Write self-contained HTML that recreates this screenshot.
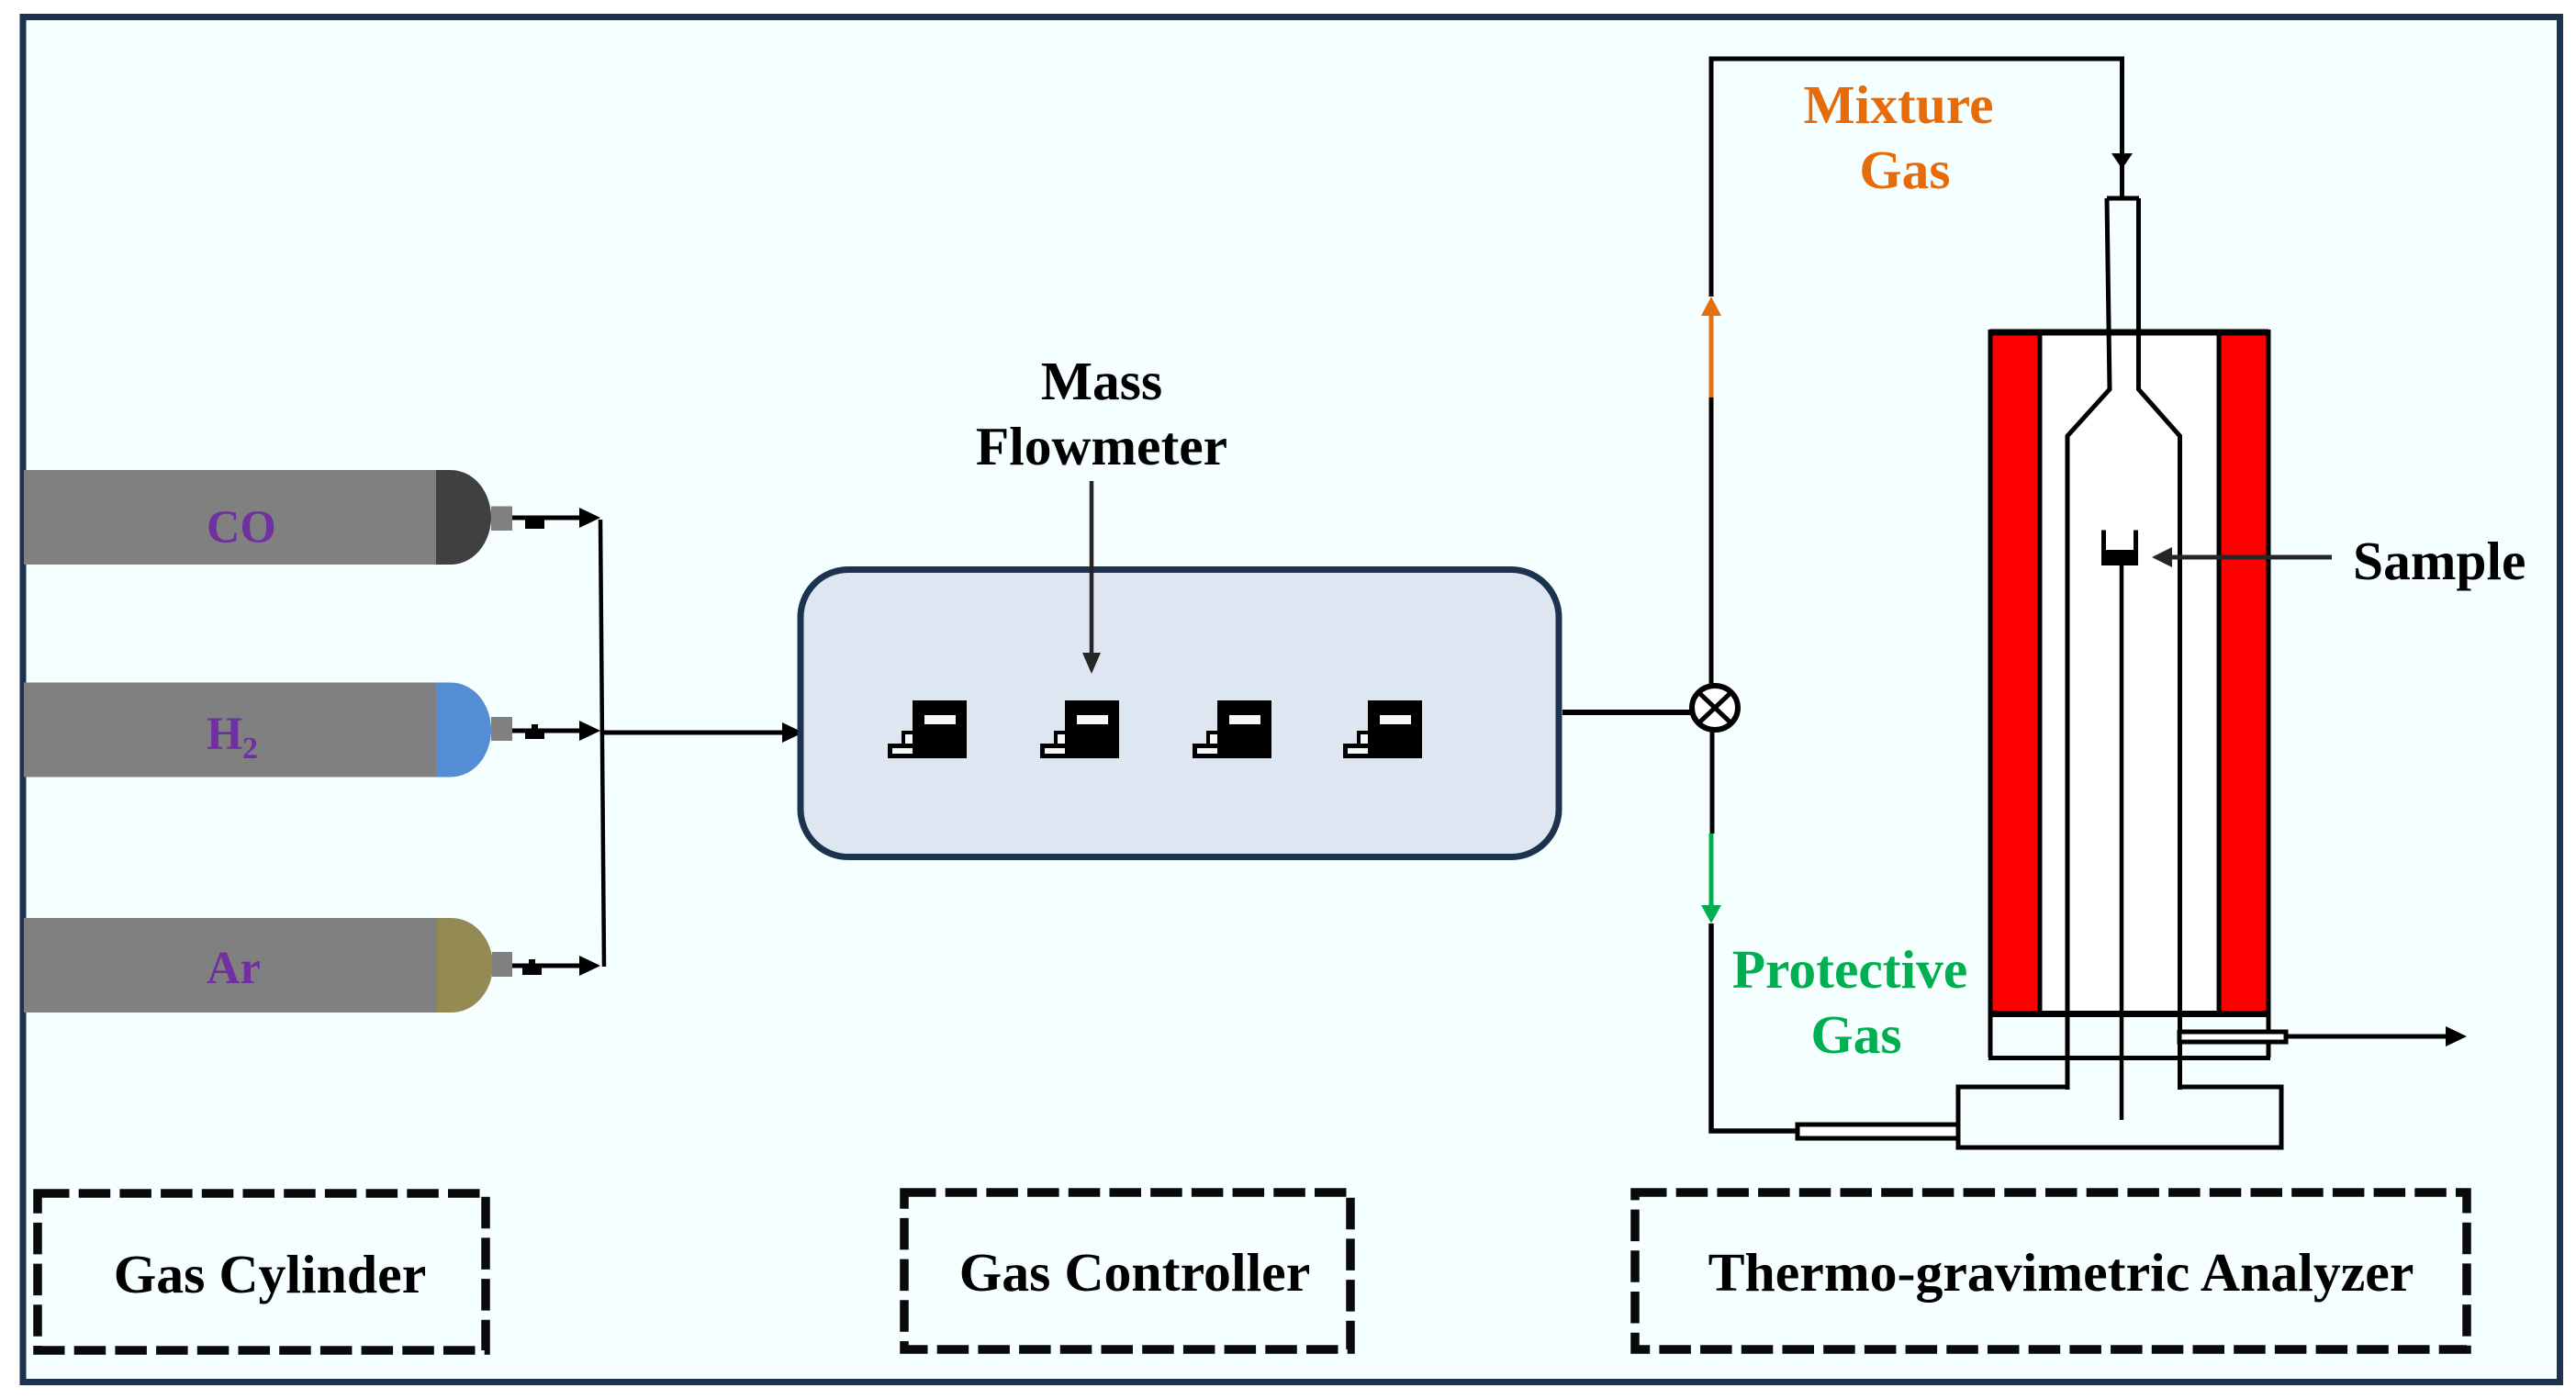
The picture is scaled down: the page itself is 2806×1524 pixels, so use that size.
<!DOCTYPE html>
<html lang="en">
<head>
<meta charset="utf-8">
<title>Gas flow diagram</title>
<style>
html,body{margin:0;padding:0;background:#fff;}
svg{display:block;}
text{font-family:"Liberation Serif",serif;font-weight:bold;}
</style>
</head>
<body>
<svg xmlns="http://www.w3.org/2000/svg" width="2806" height="1524" viewBox="0 0 2806 1524">
<rect width="2806" height="1524" fill="#fff"/>
<rect x="25" y="18.5" width="2763.5" height="1487" fill="#f5ffff" stroke="#1c3350" stroke-width="7"/>

<!-- cylinders -->
<rect x="26" y="512" width="450" height="103" fill="#808080"/>
<rect x="26" y="743.5" width="450" height="103" fill="#808080"/>
<rect x="26" y="1000" width="450" height="103" fill="#808080"/>
<path d="M475 512 H490 C518 512 535 538 535 563.5 C535 589 518 615 490 615 H475 Z" fill="#404040"/>
<path d="M475 743.5 H490 C518 743.5 535 769 535 795 C535 821 518 846.5 490 846.5 H475 Z" fill="#558ed5"/>
<path d="M476 1000 H491 C519 1000 537 1026 537 1051.5 C537 1077 519 1103 491 1103 H476 Z" fill="#948a54"/>
<rect x="535" y="551.5" width="23" height="26.5" fill="#808080"/>
<rect x="535" y="781" width="23" height="26" fill="#808080"/>
<rect x="536" y="1037" width="22" height="27" fill="#808080"/>
<text x="225" y="591" font-size="50.5" fill="#7030a0">CO</text>
<text x="225" y="816" font-size="50.5" fill="#7030a0">H</text>
<text x="264" y="826" font-size="34" fill="#7030a0">2</text>
<text x="225" y="1071" font-size="50.5" fill="#7030a0">Ar</text>

<!-- cylinder lines -->
<g stroke="#000" stroke-width="5" fill="none">
<line x1="558" y1="564" x2="635" y2="564"/>
<line x1="558" y1="796" x2="635" y2="796"/>
<line x1="558" y1="1052" x2="635" y2="1052"/>
<line x1="654" y1="566" x2="658" y2="1053" stroke-width="4.5"/>
<line x1="657" y1="798" x2="855" y2="798"/>
</g>
<g fill="#000">
<path d="M631 553 L654 564 L631 575 Z"/>
<path d="M631 785 L654 796 L631 807 Z"/>
<path d="M631 1041 L654 1052 L631 1063 Z"/>
<path d="M852 787 L875 798 L852 809 Z"/>
<rect x="572" y="564" width="21" height="12"/>
<rect x="572" y="794" width="21" height="11"/><rect x="579" y="789" width="7" height="6"/>
<rect x="569" y="1050" width="21" height="12"/><rect x="576" y="1045" width="7" height="6"/>
</g>

<!-- gas controller -->
<rect x="872" y="620.5" width="826" height="313" rx="52" ry="52" fill="#dee6f2" stroke="#1c3350" stroke-width="7"/>
<g>
<rect x="994" y="763" width="59" height="63" fill="#000"/>
<rect x="982" y="796" width="12" height="16" fill="#000"/>
<rect x="967" y="810" width="30" height="16" fill="#000"/>
<rect x="1007" y="779" width="34" height="10" fill="#f5f8fb"/>
<rect x="986" y="800" width="8" height="10" fill="#f5f8fb"/>
<rect x="972" y="815" width="22" height="6" fill="#f5f8fb"/>
</g>
<g transform="translate(166,0)">
<rect x="994" y="763" width="59" height="63" fill="#000"/>
<rect x="982" y="796" width="12" height="16" fill="#000"/>
<rect x="967" y="810" width="30" height="16" fill="#000"/>
<rect x="1007" y="779" width="34" height="10" fill="#f5f8fb"/>
<rect x="986" y="800" width="8" height="10" fill="#f5f8fb"/>
<rect x="972" y="815" width="22" height="6" fill="#f5f8fb"/>
</g>
<g transform="translate(332,0)">
<rect x="994" y="763" width="59" height="63" fill="#000"/>
<rect x="982" y="796" width="12" height="16" fill="#000"/>
<rect x="967" y="810" width="30" height="16" fill="#000"/>
<rect x="1007" y="779" width="34" height="10" fill="#f5f8fb"/>
<rect x="986" y="800" width="8" height="10" fill="#f5f8fb"/>
<rect x="972" y="815" width="22" height="6" fill="#f5f8fb"/>
</g>
<g transform="translate(496,0)">
<rect x="994" y="763" width="59" height="63" fill="#000"/>
<rect x="982" y="796" width="12" height="16" fill="#000"/>
<rect x="967" y="810" width="30" height="16" fill="#000"/>
<rect x="1007" y="779" width="34" height="10" fill="#f5f8fb"/>
<rect x="986" y="800" width="8" height="10" fill="#f5f8fb"/>
<rect x="972" y="815" width="22" height="6" fill="#f5f8fb"/>
</g>
<line x1="1189" y1="524" x2="1189" y2="715" stroke="#262626" stroke-width="4.5"/>
<path d="M1179 711 H1199 L1189 734 Z" fill="#262626"/>
<text x="1200" y="435" font-size="59.5" fill="#000" text-anchor="middle">Mass</text>
<text x="1200" y="506" font-size="59.5" fill="#000" text-anchor="middle">Flowmeter</text>

<!-- piping -->
<g fill="none" stroke="#000" stroke-width="5">
<line x1="1702" y1="776" x2="1842" y2="776" stroke-width="6"/>
<path d="M1864 750 V433"/>
<path d="M1861.5 64 H2311.5 V216 M1864 323 V64"/>
<path d="M1865 797 V908"/>
<path d="M1864 1006 V1232 H1958" stroke-width="5.5"/>
</g>
<path d="M1853 344 L1864 323 L1875 344 Z" fill="#e66f10"/>
<line x1="1864" y1="342" x2="1864" y2="433" stroke="#e66f10" stroke-width="5"/>
<line x1="1864" y1="908" x2="1864" y2="990" stroke="#00b050" stroke-width="5"/>
<path d="M1853 986 H1875 L1864 1006 Z" fill="#00b050"/>
<path d="M2300 167 H2323 L2311.5 184 Z" fill="#000"/>
<ellipse cx="1868" cy="771" rx="25" ry="24" fill="#fff" stroke="#000" stroke-width="6"/>
<path d="M1850 754 L1886 788 M1886 754 L1850 788" stroke="#000" stroke-width="5" fill="none"/>

<!-- furnace -->
<rect x="2221" y="362" width="196" height="743" fill="#fff"/>
<rect x="2170" y="362" width="51" height="741" fill="#f00"/>
<rect x="2417" y="362" width="52" height="741" fill="#f00"/>
<g fill="none" stroke="#000" stroke-width="5">
<path d="M2167.5 362 H2471" stroke-width="7"/>
<line x1="2168" y1="359" x2="2168" y2="1152"/>
<line x1="2471" y1="359" x2="2471" y2="1152"/>
<line x1="2222" y1="362" x2="2222" y2="1103"/>
<line x1="2417" y1="362" x2="2417" y2="1103"/>
<line x1="2166" y1="1104.5" x2="2473" y2="1104.5" stroke-width="7"/>
<line x1="2166" y1="1152.5" x2="2473" y2="1152.5"/>
<path d="M2295 216 H2330" stroke-width="5"/>
<path d="M2295 216 L2298 424 L2252 475 V1187"/>
<path d="M2329.5 216 V424 L2374.5 475 V1187"/>
<path d="M2251 1184 H2133 V1250 H2485 V1184 H2372"/>
<rect x="1958" y="1225" width="175" height="15" fill="#fff"/>
<rect x="2374" y="1124" width="116" height="11" fill="#fff"/>
<line x1="2311" y1="616" x2="2311" y2="1220" stroke-width="4.5"/>
<line x1="2490" y1="1129" x2="2668" y2="1129"/>
</g>
<path d="M2664 1118 L2687 1129 L2664 1140 Z" fill="#000"/>
<!-- sample holder -->
<rect x="2289" y="577.5" width="5" height="25" fill="#000"/>
<rect x="2324" y="577.5" width="5" height="25" fill="#000"/>
<rect x="2289" y="599" width="40" height="17" fill="#000"/>
<line x1="2362" y1="607" x2="2540" y2="607" stroke="#262626" stroke-width="5"/>
<path d="M2344 607 L2366 596 V618 Z" fill="#262626"/>

<!-- labels -->
<text x="2068" y="134" font-size="59.5" fill="#e66c0a" text-anchor="middle">Mixture</text>
<text x="2075" y="205" font-size="59.5" fill="#e66c0a" text-anchor="middle">Gas</text>
<text x="2015" y="1076" font-size="59.5" fill="#00b050" text-anchor="middle">Protective</text>
<text x="2022" y="1147" font-size="59.5" fill="#00b050" text-anchor="middle">Gas</text>
<text x="2563" y="631" font-size="59.5" fill="#000">Sample</text>

<!-- dashed boxes -->
<g fill="none" stroke="#0a0a0a" stroke-width="9.5" stroke-dasharray="34.5 10.2">
<rect x="41" y="1300" width="488" height="171"/>
<rect x="985" y="1299" width="486" height="171"/>
<rect x="1781" y="1299" width="906" height="171"/>
</g>
<text x="294" y="1408" font-size="59.8" fill="#000" text-anchor="middle">Gas Cylinder</text>
<text x="1236" y="1406" font-size="59.8" fill="#000" text-anchor="middle">Gas Controller</text>
<text x="2245" y="1406" font-size="59.8" fill="#000" text-anchor="middle">Thermo-gravimetric Analyzer</text>
</svg>
</body>
</html>
